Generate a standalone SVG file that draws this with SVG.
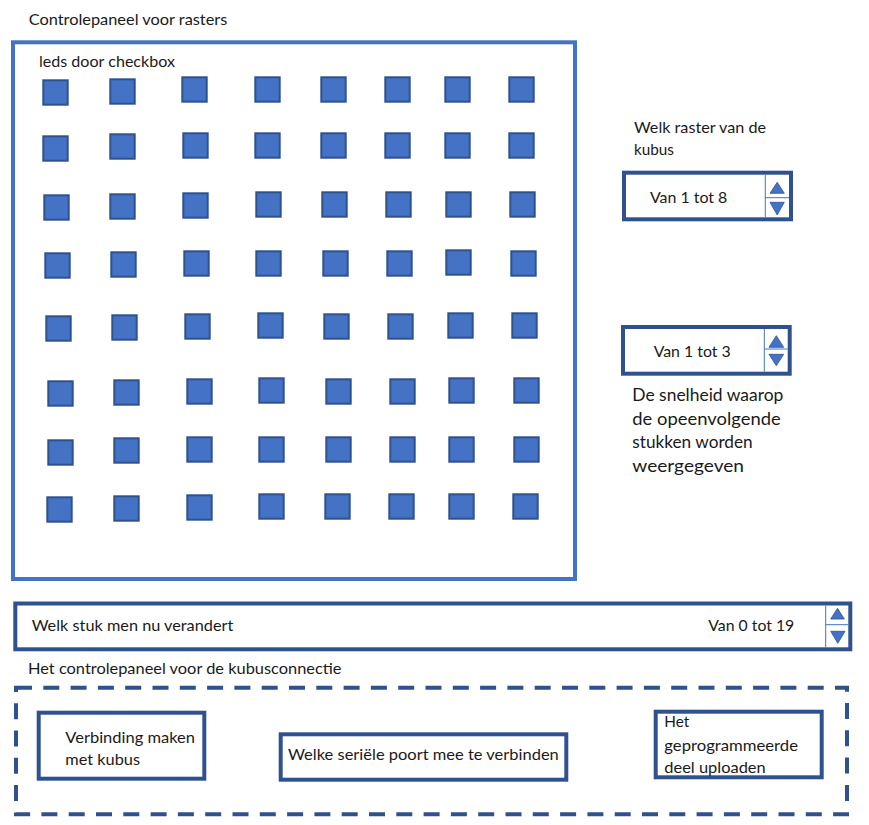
<svg xmlns="http://www.w3.org/2000/svg" width="869" height="825" viewBox="0 0 869 825">
<style>
text{font-family:Lato,"Open Sans","Liberation Sans",sans-serif;font-size:15px;fill:#1a1a1a}
.big{font-size:17.5px}
.frame{fill:none;stroke:#4472c4;stroke-width:4}
.box{fill:#fff;stroke:#2f528f;stroke-width:4}
.dash{fill:none;stroke:#2f528f;stroke-width:4;stroke-dasharray:16 11.3}
.led{fill:#4472c4;stroke:#2f528f;stroke-width:2}
.div{stroke:#4472c4;stroke-width:1;fill:none}
.tri{fill:#4472c4;stroke:#2f528f;stroke-width:0.8}
</style>
<rect width="869" height="825" fill="#fff"/>

<g id="title"><text x="28.7" y="25" textLength="198.6" lengthAdjust="spacingAndGlyphs">Controlepaneel voor rasters</text></g>

<g id="raster-panel">
<rect class="frame" x="13" y="42.3" width="562" height="536.7"/>
<text x="39" y="66.7" textLength="136" lengthAdjust="spacingAndGlyphs">leds door checkbox</text>
</g>

<g id="leds">
<rect class="led" x="43.3" y="80.3" width="24.4" height="24.4"/>
<rect class="led" x="110.3" y="79.3" width="24.4" height="24.4"/>
<rect class="led" x="182.3" y="77.3" width="24.4" height="24.4"/>
<rect class="led" x="255.3" y="77.3" width="24.4" height="24.4"/>
<rect class="led" x="321.3" y="77.3" width="24.4" height="24.4"/>
<rect class="led" x="385.3" y="77.3" width="24.4" height="24.4"/>
<rect class="led" x="445.3" y="77.3" width="24.4" height="24.4"/>
<rect class="led" x="509.3" y="77.3" width="24.4" height="24.4"/>

<rect class="led" x="43.3" y="136.3" width="24.4" height="24.4"/>
<rect class="led" x="110.3" y="134.3" width="24.4" height="24.4"/>
<rect class="led" x="183.3" y="133.3" width="24.4" height="24.4"/>
<rect class="led" x="255.3" y="133.3" width="24.4" height="24.4"/>
<rect class="led" x="321.3" y="133.3" width="24.4" height="24.4"/>
<rect class="led" x="385.3" y="133.3" width="24.4" height="24.4"/>
<rect class="led" x="445.3" y="133.3" width="24.4" height="24.4"/>
<rect class="led" x="509.3" y="133.3" width="24.4" height="24.4"/>

<rect class="led" x="44.3" y="195.3" width="24.4" height="24.4"/>
<rect class="led" x="110.3" y="194.3" width="24.4" height="24.4"/>
<rect class="led" x="183.3" y="193.3" width="24.4" height="24.4"/>
<rect class="led" x="256.3" y="192.3" width="24.4" height="24.4"/>
<rect class="led" x="322.3" y="192.3" width="24.4" height="24.4"/>
<rect class="led" x="386.3" y="192.3" width="24.4" height="24.4"/>
<rect class="led" x="446.3" y="192.3" width="24.4" height="24.4"/>
<rect class="led" x="510.3" y="192.3" width="24.4" height="24.4"/>

<rect class="led" x="45.3" y="253.3" width="24.4" height="24.4"/>
<rect class="led" x="111.3" y="252.3" width="24.4" height="24.4"/>
<rect class="led" x="184.3" y="251.3" width="24.4" height="24.4"/>
<rect class="led" x="256.3" y="251.3" width="24.4" height="24.4"/>
<rect class="led" x="323.3" y="251.3" width="24.4" height="24.4"/>
<rect class="led" x="387.3" y="251.3" width="24.4" height="24.4"/>
<rect class="led" x="446.3" y="250.3" width="24.4" height="24.4"/>
<rect class="led" x="511.3" y="251.3" width="24.4" height="24.4"/>

<rect class="led" x="46.3" y="316.3" width="24.4" height="24.4"/>
<rect class="led" x="112.3" y="315.3" width="24.4" height="24.4"/>
<rect class="led" x="185.3" y="314.3" width="24.4" height="24.4"/>
<rect class="led" x="258.3" y="313.3" width="24.4" height="24.4"/>
<rect class="led" x="324.3" y="314.3" width="24.4" height="24.4"/>
<rect class="led" x="388.3" y="314.3" width="24.4" height="24.4"/>
<rect class="led" x="448.3" y="313.3" width="24.4" height="24.4"/>
<rect class="led" x="512.3" y="313.3" width="24.4" height="24.4"/>

<rect class="led" x="48.3" y="381.3" width="24.4" height="24.4"/>
<rect class="led" x="114.3" y="380.3" width="24.4" height="24.4"/>
<rect class="led" x="187.3" y="379.3" width="24.4" height="24.4"/>
<rect class="led" x="259.3" y="378.3" width="24.4" height="24.4"/>
<rect class="led" x="326.3" y="379.3" width="24.4" height="24.4"/>
<rect class="led" x="390.3" y="379.3" width="24.4" height="24.4"/>
<rect class="led" x="449.3" y="378.3" width="24.4" height="24.4"/>
<rect class="led" x="514.3" y="378.3" width="24.4" height="24.4"/>

<rect class="led" x="48.3" y="440.3" width="24.4" height="24.4"/>
<rect class="led" x="114.3" y="438.3" width="24.4" height="24.4"/>
<rect class="led" x="187.3" y="437.3" width="24.4" height="24.4"/>
<rect class="led" x="259.3" y="437.3" width="24.4" height="24.4"/>
<rect class="led" x="326.3" y="437.3" width="24.4" height="24.4"/>
<rect class="led" x="390.3" y="437.3" width="24.4" height="24.4"/>
<rect class="led" x="449.3" y="437.3" width="24.4" height="24.4"/>
<rect class="led" x="514.3" y="437.3" width="24.4" height="24.4"/>

<rect class="led" x="47.3" y="497.3" width="24.4" height="24.4"/>
<rect class="led" x="114.3" y="496.3" width="24.4" height="24.4"/>
<rect class="led" x="187.3" y="495.3" width="24.4" height="24.4"/>
<rect class="led" x="259.3" y="494.3" width="24.4" height="24.4"/>
<rect class="led" x="325.3" y="494.3" width="24.4" height="24.4"/>
<rect class="led" x="389.3" y="494.3" width="24.4" height="24.4"/>
<rect class="led" x="449.3" y="494.3" width="24.4" height="24.4"/>
<rect class="led" x="513.3" y="494.3" width="24.4" height="24.4"/>
</g>

<g id="raster-select">
<text x="634" y="132.7" textLength="132" lengthAdjust="spacingAndGlyphs">Welk raster van de</text>
<text x="634" y="154.7" textLength="40" lengthAdjust="spacingAndGlyphs">kubus</text>
<rect class="box" x="624" y="172.7" width="167" height="46.6"/>
<line class="div" x1="765.3" y1="174.7" x2="765.3" y2="217.3"/>
<line class="div" x1="765.3" y1="197.7" x2="789" y2="197.7"/>
<polygon class="tri" points="770,193.3 784.3,193.3 777.2,182.3"/>
<polygon class="tri" points="770,202.3 784.3,202.3 777.2,215"/>
<text x="650" y="203.3" textLength="77.3" lengthAdjust="spacingAndGlyphs">Van 1 tot 8</text>
</g>

<g id="speed-select">
<rect class="box" x="623" y="327" width="166.7" height="46.7"/>
<line class="div" x1="764.3" y1="329" x2="764.3" y2="371.7"/>
<line class="div" x1="764.3" y1="349" x2="787.7" y2="349"/>
<polygon class="tri" points="769,347.3 783.7,347.3 776.3,335.7"/>
<polygon class="tri" points="769,354.3 783.7,354.3 776.3,365.7"/>
<text x="653.7" y="356.7" textLength="77" lengthAdjust="spacingAndGlyphs">Van 1 tot 3</text>
<text class="big" x="632.3" y="401" textLength="151" lengthAdjust="spacingAndGlyphs">De snelheid waarop</text>
<text class="big" x="632.3" y="424.5" textLength="148.4" lengthAdjust="spacingAndGlyphs">de opeenvolgende</text>
<text class="big" x="632.3" y="448.3" textLength="120.4" lengthAdjust="spacingAndGlyphs">stukken worden</text>
<text class="big" x="632.3" y="471.7" textLength="111.7" lengthAdjust="spacingAndGlyphs">weergegeven</text>
</g>

<g id="piece-select">
<rect class="box" x="15.3" y="603.5" width="835" height="45.8"/>
<line class="div" x1="825.7" y1="605.5" x2="825.7" y2="647.3"/>
<line class="div" x1="825.7" y1="624.7" x2="848.3" y2="624.7"/>
<polygon class="tri" points="830.7,619 844.3,619 837.5,608.3"/>
<polygon class="tri" points="830.7,631.3 845,631.3 837.8,643.3"/>
<text x="31.7" y="630.7" textLength="201.6" lengthAdjust="spacingAndGlyphs">Welk stuk men nu verandert</text>
<text x="708.3" y="630.7" textLength="86" lengthAdjust="spacingAndGlyphs">Van 0 tot 19</text>
</g>

<g id="connection-panel">
<text x="28" y="674" textLength="313.5" lengthAdjust="spacingAndGlyphs">Het controlepaneel voor de kubusconnectie</text>
<rect class="dash" x="16" y="687.7" width="831" height="126.6"/>
</g>

<g id="connect-button">
<rect class="box" x="38.7" y="712.7" width="165.6" height="66"/>
<text x="65.3" y="742.7" textLength="129.7" lengthAdjust="spacingAndGlyphs">Verbinding maken</text>
<text x="65.3" y="765" textLength="74.7" lengthAdjust="spacingAndGlyphs">met kubus</text>
</g>

<g id="port-select">
<rect class="box" x="280.7" y="734.3" width="285.6" height="45.4"/>
<text x="288" y="760" textLength="270.8" lengthAdjust="spacingAndGlyphs">Welke seriële poort mee te verbinden</text>
</g>

<g id="upload-button">
<rect class="box" x="655.7" y="711.7" width="166" height="65.6"/>
<text x="664.3" y="727.3" textLength="25" lengthAdjust="spacingAndGlyphs">Het</text>
<text x="664.3" y="750.7" textLength="133.7" lengthAdjust="spacingAndGlyphs">geprogrammeerde</text>
<text x="664.3" y="773.3" textLength="101.4" lengthAdjust="spacingAndGlyphs">deel uploaden</text>
</g>

<g id="connectors"></g>
</svg>
